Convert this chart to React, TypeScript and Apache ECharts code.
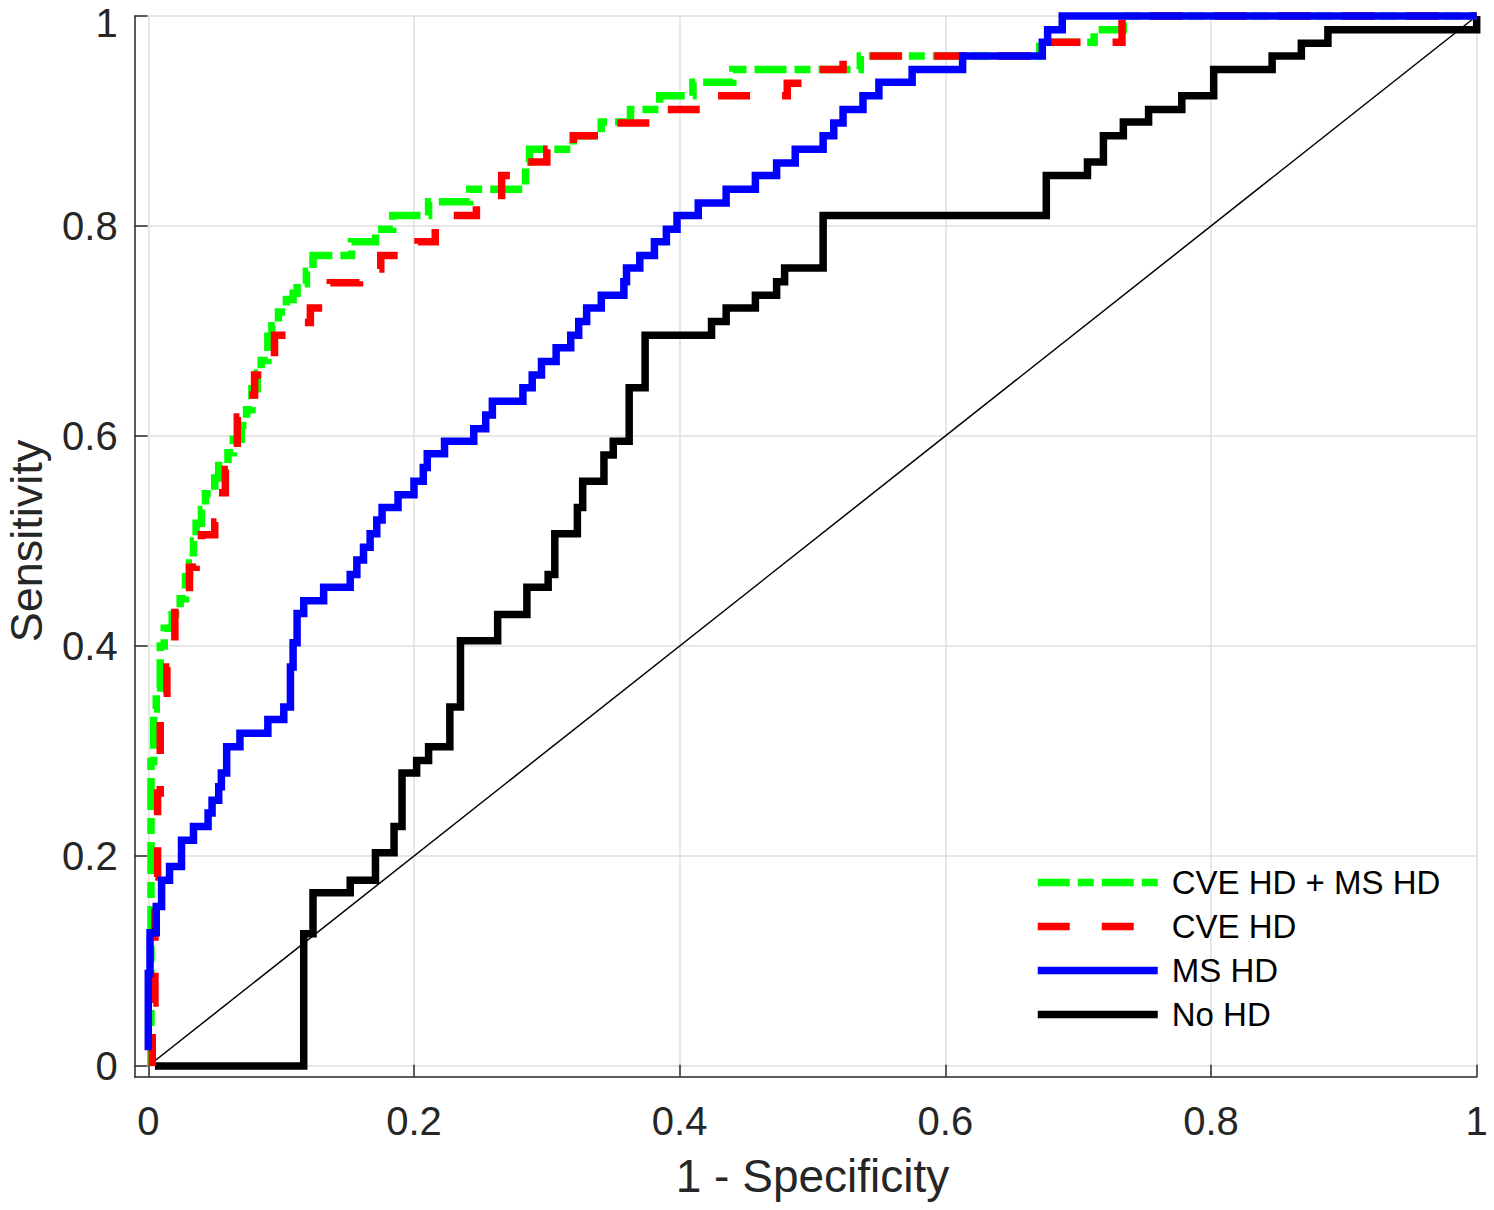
import React, { useEffect, useRef } from "react";
import * as echarts from "echarts";

// ROC curves: [1 - Specificity, Sensitivity] vertices
const noHdRoc: [number, number][] = [
  [0.005, 0], [0.117, 0], [0.117, 0.126], [0.124, 0.126], [0.124, 0.165], [0.152, 0.165],
  [0.152, 0.177], [0.171, 0.177], [0.171, 0.203], [0.185, 0.203], [0.185, 0.228], [0.191, 0.228],
  [0.191, 0.279], [0.202, 0.279], [0.202, 0.291], [0.211, 0.291], [0.211, 0.304], [0.227, 0.304],
  [0.227, 0.342], [0.235, 0.342], [0.235, 0.405], [0.263, 0.405], [0.263, 0.43], [0.285, 0.43],
  [0.285, 0.456], [0.301, 0.456], [0.301, 0.468], [0.306, 0.468], [0.306, 0.507], [0.323, 0.507],
  [0.323, 0.532], [0.327, 0.532], [0.327, 0.557], [0.343, 0.557], [0.343, 0.582], [0.35, 0.582],
  [0.35, 0.595], [0.362, 0.595], [0.362, 0.646], [0.374, 0.646], [0.374, 0.696], [0.424, 0.696],
  [0.424, 0.709], [0.435, 0.709], [0.435, 0.722], [0.457, 0.722], [0.457, 0.734], [0.473, 0.734],
  [0.473, 0.747], [0.479, 0.747], [0.479, 0.76], [0.508, 0.76], [0.508, 0.81], [0.676, 0.81],
  [0.676, 0.848], [0.707, 0.848], [0.707, 0.861], [0.719, 0.861], [0.719, 0.886], [0.734, 0.886],
  [0.734, 0.899], [0.753, 0.899], [0.753, 0.911], [0.778, 0.911], [0.778, 0.924], [0.802, 0.924],
  [0.802, 0.949], [0.846, 0.949], [0.846, 0.962], [0.868, 0.962], [0.868, 0.974], [0.888, 0.974],
  [0.888, 0.987], [1.0, 0.987], [1.0, 1.0],
];

const msHdRoc: [number, number][] = [
  [0, 0.015], [0, 0.088], [0.0013, 0.088], [0.0013, 0.127], [0.006, 0.127], [0.006, 0.152],
  [0.01, 0.152], [0.01, 0.177], [0.016, 0.177], [0.016, 0.19], [0.025, 0.19], [0.025, 0.215],
  [0.034, 0.215], [0.034, 0.228], [0.045, 0.228], [0.045, 0.241], [0.048, 0.241], [0.048, 0.253],
  [0.053, 0.253], [0.053, 0.266], [0.055, 0.266], [0.055, 0.279], [0.059, 0.279], [0.059, 0.304],
  [0.069, 0.304], [0.069, 0.317], [0.09, 0.317], [0.09, 0.33], [0.102, 0.33], [0.102, 0.342],
  [0.107, 0.342], [0.107, 0.38], [0.109, 0.38], [0.109, 0.403], [0.112, 0.403], [0.112, 0.431],
  [0.117, 0.431], [0.117, 0.443], [0.132, 0.443], [0.132, 0.456], [0.152, 0.456], [0.152, 0.468],
  [0.157, 0.468], [0.157, 0.482], [0.162, 0.482], [0.162, 0.494], [0.167, 0.494], [0.167, 0.507],
  [0.172, 0.507], [0.172, 0.52], [0.176, 0.52], [0.176, 0.532], [0.188, 0.532], [0.188, 0.544],
  [0.2, 0.544], [0.2, 0.557], [0.207, 0.557], [0.207, 0.57], [0.21, 0.57], [0.21, 0.583],
  [0.223, 0.583], [0.223, 0.595], [0.245, 0.595], [0.245, 0.607], [0.254, 0.607], [0.254, 0.62],
  [0.259, 0.62], [0.259, 0.633], [0.282, 0.633], [0.282, 0.646], [0.289, 0.646], [0.289, 0.658],
  [0.296, 0.658], [0.296, 0.671], [0.307, 0.671], [0.307, 0.684], [0.318, 0.684], [0.318, 0.696],
  [0.324, 0.696], [0.324, 0.709], [0.33, 0.709], [0.33, 0.722], [0.341, 0.722], [0.341, 0.734],
  [0.358, 0.734], [0.358, 0.747], [0.36, 0.747], [0.36, 0.76], [0.37, 0.76], [0.37, 0.772],
  [0.381, 0.772], [0.381, 0.785], [0.39, 0.785], [0.39, 0.797], [0.398, 0.797], [0.398, 0.81],
  [0.414, 0.81], [0.414, 0.822], [0.435, 0.822], [0.435, 0.835], [0.457, 0.835], [0.457, 0.848],
  [0.473, 0.848], [0.473, 0.86], [0.487, 0.86], [0.487, 0.873], [0.508, 0.873], [0.508, 0.886],
  [0.516, 0.886], [0.516, 0.898], [0.523, 0.898], [0.523, 0.911], [0.538, 0.911], [0.538, 0.924],
  [0.55, 0.924], [0.55, 0.937], [0.575, 0.937], [0.575, 0.949], [0.613, 0.949], [0.613, 0.962],
  [0.673, 0.962], [0.673, 0.975], [0.677, 0.975], [0.677, 0.987], [0.688, 0.987], [0.688, 1.0],
  [1.0, 1.0],
];

const cveMsHdRoc: [number, number][] = [
  [0.002, 0], [0.002, 0.29], [0.004, 0.29], [0.004, 0.34], [0.006, 0.34], [0.006, 0.36],
  [0.009, 0.36], [0.009, 0.4], [0.012, 0.4], [0.012, 0.417], [0.018, 0.417], [0.018, 0.43],
  [0.024, 0.43], [0.024, 0.445], [0.028, 0.445], [0.028, 0.466], [0.031, 0.466], [0.031, 0.479],
  [0.034, 0.479], [0.034, 0.5], [0.036, 0.5], [0.036, 0.517], [0.04, 0.517], [0.04, 0.53],
  [0.043, 0.53], [0.043, 0.545], [0.05, 0.545], [0.05, 0.56], [0.053, 0.56], [0.053, 0.572],
  [0.06, 0.572], [0.06, 0.584], [0.064, 0.584], [0.064, 0.597], [0.07, 0.597], [0.07, 0.61],
  [0.074, 0.61], [0.074, 0.625], [0.078, 0.625], [0.078, 0.645], [0.082, 0.645], [0.082, 0.66],
  [0.085, 0.66], [0.085, 0.672], [0.09, 0.672], [0.09, 0.695], [0.093, 0.695], [0.093, 0.705],
  [0.098, 0.705], [0.098, 0.718], [0.104, 0.718], [0.104, 0.73], [0.109, 0.73], [0.109, 0.736],
  [0.112, 0.736], [0.112, 0.745], [0.119, 0.745], [0.119, 0.757], [0.124, 0.757], [0.124, 0.772],
  [0.153, 0.772], [0.153, 0.785], [0.171, 0.785], [0.171, 0.797], [0.184, 0.797], [0.184, 0.81],
  [0.211, 0.81], [0.211, 0.823], [0.242, 0.823], [0.242, 0.835], [0.284, 0.835], [0.284, 0.861],
  [0.287, 0.861], [0.287, 0.873], [0.32, 0.873], [0.32, 0.886], [0.341, 0.886], [0.341, 0.899],
  [0.363, 0.899], [0.363, 0.911], [0.385, 0.911], [0.385, 0.924], [0.41, 0.924], [0.41, 0.937],
  [0.44, 0.937], [0.44, 0.949], [0.536, 0.949], [0.536, 0.962], [0.671, 0.962], [0.671, 0.975],
  [0.712, 0.975], [0.712, 0.987], [0.734, 0.987], [0.734, 1.0], [1.0, 1.0],
];

const cveHdRoc: [number, number][] = [
  [0.003, 0], [0.003, 0.06], [0.005, 0.06], [0.005, 0.18], [0.007, 0.18], [0.007, 0.26],
  [0.009, 0.26], [0.009, 0.33], [0.011, 0.33], [0.011, 0.355], [0.014, 0.355], [0.014, 0.38],
  [0.017, 0.38], [0.017, 0.405], [0.02, 0.405], [0.02, 0.432], [0.025, 0.432], [0.025, 0.45],
  [0.031, 0.45], [0.031, 0.475], [0.036, 0.475], [0.036, 0.493], [0.04, 0.493], [0.04, 0.506],
  [0.05, 0.506], [0.05, 0.518], [0.052, 0.518], [0.052, 0.546], [0.058, 0.546], [0.058, 0.568],
  [0.062, 0.568], [0.062, 0.593], [0.067, 0.593], [0.067, 0.618], [0.075, 0.618], [0.075, 0.639],
  [0.08, 0.639], [0.08, 0.658], [0.086, 0.658], [0.086, 0.672], [0.095, 0.672], [0.095, 0.696],
  [0.104, 0.696], [0.104, 0.708], [0.122, 0.708], [0.122, 0.722], [0.137, 0.722], [0.137, 0.746],
  [0.159, 0.746], [0.159, 0.759], [0.175, 0.759], [0.175, 0.772], [0.203, 0.772], [0.203, 0.785],
  [0.216, 0.785], [0.216, 0.81], [0.247, 0.81], [0.247, 0.823], [0.266, 0.823], [0.266, 0.848],
  [0.283, 0.848], [0.283, 0.861], [0.3, 0.861], [0.3, 0.873], [0.32, 0.873], [0.32, 0.886],
  [0.346, 0.886], [0.346, 0.898], [0.386, 0.898], [0.386, 0.911], [0.424, 0.911], [0.424, 0.924],
  [0.481, 0.924], [0.481, 0.936], [0.496, 0.936], [0.496, 0.949], [0.523, 0.949], [0.523, 0.962],
  [0.675, 0.962], [0.675, 0.975], [0.733, 0.975], [0.733, 1.0], [1.0, 1.0],
];

const chanceLine: [number, number][] = [[0, 0], [1, 1]];

const seriesNames = ["CVE HD + MS HD", "CVE HD", "MS HD", "No HD"];
const seriesColors = ["#00ff00", "#ff0000", "#0000ff", "#000000"];
const tickStep = 0.2;

const FONT = '"Liberation Sans", Arial, Helvetica, sans-serif';
const AX = "#262626";
const GRIDC = "#dfdfdf";
const LW = 7.5;

export default function App() {
  const ref = useRef<HTMLDivElement>(null);
  useEffect(() => {
    if (!ref.current) return;
    const chart = echarts.init(ref.current, undefined, { renderer: "svg" });
    const lineBase = { type: "line", showSymbol: false, symbol: "none", clip: false, silent: true, xAxisIndex: 0, yAxisIndex: 0 };
    const dashes = [[32, 8, 16, 8], [32, 32], "solid", "solid"];
    chart.setOption({
      animation: false,
      backgroundColor: "#fff",
      grid: [
        { left: 148.3, right: 17.3, top: 16, bottom: 144, outerBoundsMode: "none", containLabel: false },
        { left: 134.7, right: 17.3, top: 16, bottom: 133.3, outerBoundsMode: "none", containLabel: false },
      ],
      xAxis: [
        {
          type: "value", gridIndex: 0, min: 0, max: 1, interval: tickStep, offset: 10.7,
          axisLine: { show: false, onZero: false },
          axisTick: { show: true, inside: true, length: 12, lineStyle: { color: AX, width: 1.5 } },
          axisLabel: { margin: 24, fontSize: 40, color: AX, fontFamily: FONT },
          splitLine: { show: true, lineStyle: { color: GRIDC, width: 1.5 } },
          name: "1 - Specificity", nameLocation: "middle", nameGap: 76,
          nameTextStyle: { fontSize: 46, color: AX, fontFamily: FONT },
        },
        {
          type: "value", gridIndex: 1, min: -0.01, max: 1,
          axisLine: { show: true, onZero: false, lineStyle: { color: AX, width: 1.5 } },
          axisTick: { show: false }, axisLabel: { show: false }, splitLine: { show: false },
        },
      ],
      yAxis: [
        {
          type: "value", gridIndex: 0, min: 0, max: 1, interval: tickStep, offset: 13.6,
          axisLine: { show: false, onZero: false },
          axisTick: { show: true, inside: true, length: 13, lineStyle: { color: AX, width: 1.5 } },
          axisLabel: {
            margin: 17, fontSize: 40, lineHeight: 30, color: AX, fontFamily: FONT,
            formatter: (v: number) => (v === 1 ? "{t|1}" : String(v)),
            rich: { t: { fontSize: 40, lineHeight: 16, padding: [14, 0, 0, 0], color: AX, fontFamily: FONT } },
          },
          splitLine: { show: true, lineStyle: { color: GRIDC, width: 1.5 } },
          name: "Sensitivity", nameLocation: "middle", nameGap: 89,
          nameTextStyle: { fontSize: 45, lineHeight: 38, color: AX, fontFamily: FONT },
        },
        {
          type: "value", gridIndex: 1, min: -0.01, max: 1,
          axisLine: { show: true, onZero: false, lineStyle: { color: AX, width: 1.5 } },
          axisTick: { show: false }, axisLabel: { show: false }, splitLine: { show: false },
        },
      ],
      legend: {
        data: seriesNames.map((n, i) => ({
          name: n,
          itemStyle: { opacity: 0 },
          lineStyle: { width: LW, color: seriesColors[i], type: dashes[i], cap: "butt" },
        })),
        orient: "vertical",
        left: 1034,
        top: 866,
        padding: 0,
        itemWidth: 120,
        itemHeight: 14,
        itemGap: 11,
        selectedMode: false,
        itemStyle: { opacity: 0 },
        lineStyle: { width: LW },
        textStyle: { fontSize: 33, lineHeight: 33, color: "#000", fontFamily: FONT, padding: [0, 0, 0, 9] },
      },
      series: [
        { ...lineBase, name: "chance", data: chanceLine, lineStyle: { color: "#000", width: 1.5 } },
        { ...lineBase, name: seriesNames[3], data: noHdRoc, color: seriesColors[3],
          lineStyle: { color: seriesColors[3], width: LW, join: "miter" } },
        { ...lineBase, name: seriesNames[0], data: cveMsHdRoc, color: seriesColors[0],
          lineStyle: { color: seriesColors[0], width: LW, type: dashes[0], cap: "butt", join: "miter" } },
        { ...lineBase, name: seriesNames[1], data: cveHdRoc, color: seriesColors[1],
          lineStyle: { color: seriesColors[1], width: LW, type: dashes[1], cap: "butt", join: "miter" } },
        { ...lineBase, name: seriesNames[2], data: msHdRoc, color: seriesColors[2],
          lineStyle: { color: seriesColors[2], width: LW, join: "miter" } },
      ],
    });
    return () => chart.dispose();
  }, []);
  return (
    <div
      ref={ref}
      style={{ position: "fixed", left: 0, top: 0, width: 1494, height: 1210, background: "#fff" }}
    />
  );
}
